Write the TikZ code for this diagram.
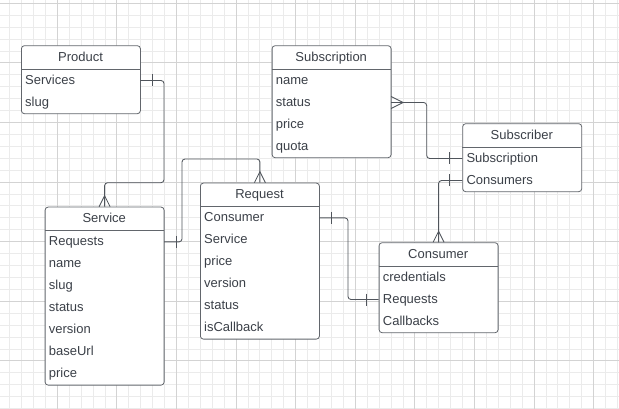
\documentclass[tikz,border=0pt]{standalone}
\usepackage{fontspec}
\setmainfont{Liberation Sans}
\usetikzlibrary{calc}
\definecolor{gridminor}{HTML}{EBEBEB}
\definecolor{gridmajor}{HTML}{D3D3D3}
\definecolor{bordercol}{HTML}{62666C}
\definecolor{txtcol}{HTML}{3B4048}
\definecolor{conncol}{HTML}{50555C}
\tikzset{
  tblbox/.style={draw=bordercol, fill=white, line width=0.8pt, rounded corners=3pt, minimum width=119pt, inner sep=0pt},
  tblhead/.style={text=txtcol, font=\fontsize{13pt}{15pt}\selectfont, inner sep=0pt, text height=10pt, text depth=2pt},
  tblrow/.style={anchor=north west, text=txtcol, font=\fontsize{13pt}{15pt}\selectfont, text width=111pt, align=left, inner xsep=4pt, inner ysep=0pt, minimum height=22pt, text height=10pt, text depth=2pt},
  conn/.style={draw=conncol, line width=0.85pt, rounded corners=3pt},
  connmark/.style={draw=conncol, line width=0.85pt},
  gminor/.style={draw=gridminor, line width=0.9pt},
  gmajor/.style={draw=gridmajor, line width=0.9pt}
}
\newcommand\ertable[6]{%
  \node[tblbox, minimum height={(24+22*#5)*1pt}, anchor=north west] (#1) at (#2,#3) {};
  \node[tblhead] (#1-h) at ({#2+59.5},{#3+12}) {#4};
  \draw[bordercol, line width=0.8pt] ({#2},{#3+24}) -- ({#2+119},{#3+24});
  \foreach \r [count=\i] in {#6} {\node[tblrow] (#1-\i) at ({#2},{#3+24+22*(\i-1)}) {\r};}
}
\begin{document}
\begin{tikzpicture}[x=1pt,y=-1pt]
\useasboundingbox (0,0) rectangle (619,409);
\fill[white] (0,0) rectangle (619,409);
% grid
\foreach \m in {0,...,52} {\draw[gminor] ({-2.3+11.92*\m},0) -- ({-2.3+11.92*\m},409);}
\foreach \m in {0,...,34} {\draw[gminor] (0,{3.3+11.92*\m}) -- (619,{3.3+11.92*\m});}
\foreach \m in {0,...,10} {\draw[gmajor] ({-2.3+59.6*\m},0) -- ({-2.3+59.6*\m},409);}
\foreach \m in {0,...,6} {\draw[gmajor] (0,{3.3+59.6*\m}) -- (619,{3.3+59.6*\m});}
% tables
\ertable{prod}{21}{45.3}{Product}{2}{Services,slug}
\ertable{sub}{271.7}{45.3}{Subscription}{4}{name,status,price,quota}
\ertable{sbr}{462.3}{123.3}{Subscriber}{2}{Subscription,Consumers}
\ertable{svc}{44.7}{206.7}{Service}{7}{Requests,name,slug,status,version,baseUrl,price}
\ertable{req}{200}{182.7}{Request}{6}{Consumer,Service,price,version,status,isCallback}
\ertable{cons}{378.7}{242.3}{Consumer}{3}{credentials,Requests,Callbacks}
% connector 1: Product.Services -> Service
\coordinate (c1) at (164,182.7);
\draw[conn] (prod-1.east) -| (c1) -| (svc.north);
\draw[connmark] ($(prod-1.east)+(12,-6)$) -- ++(0,12);
\draw[connmark] ($(svc.north)+(-5.5,0)$) -- ($(svc.north)+(0,-11)$) -- ($(svc.north)+(5.5,0)$);
% connector 2: Service.Requests -> Request
\coordinate (c2) at (182,159);
\draw[conn] (svc-1.east) -| (c2) -| (req.north);
\draw[connmark] ($(svc-1.east)+(12,-6)$) -- ++(0,12);
\draw[connmark] ($(req.north)+(-5.5,0)$) -- ($(req.north)+(0,-11)$) -- ($(req.north)+(5.5,0)$);
% connector 3: Request.Consumer -> Consumer.Requests
\coordinate (c3) at (348,0);
\draw[conn] (req-1.east) -| (c3 |- cons-2.west) -- (cons-2.west);
\draw[connmark] ($(req-1.east)+(12.3,-6)$) -- ++(0,12);
\draw[connmark] ($(cons-2.west)+(-12,-6)$) -- ++(0,12);
% connector 4: Subscription.status -> Subscriber.Subscription
\coordinate (c4) at (426.7,0);
\draw[conn] (sub-2.east) -| (c4 |- sbr-1.west) -- (sbr-1.west);
\draw[connmark] ($(sub-2.east)+(0,-6)$) -- ($(sub-2.east)+(12,0)$) -- ($(sub-2.east)+(0,6)$);
\draw[connmark] ($(sbr-1.west)+(-13,-6)$) -- ++(0,12);
% connector 5: Subscriber.Consumers -> Consumer
\draw[conn] (sbr-2.west) -| (cons.north);
\draw[connmark] ($(sbr-2.west)+(-13,-6)$) -- ++(0,12);
\draw[connmark] ($(cons.north)+(-5.5,0)$) -- ($(cons.north)+(0,-11)$) -- ($(cons.north)+(5.5,0)$);
\end{tikzpicture}
\end{document}
